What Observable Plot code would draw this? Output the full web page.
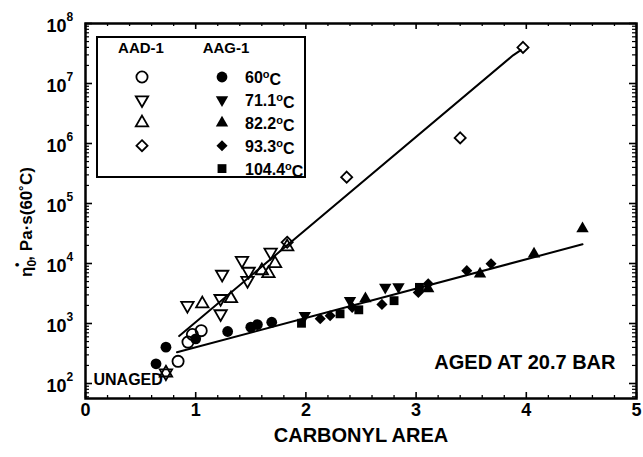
<!DOCTYPE html>
<html><head><meta charset="utf-8">
<script src="https://cdn.jsdelivr.net/npm/d3@7"></script>
<script src="https://cdn.jsdelivr.net/npm/@observablehq/plot@0.6"></script>
<style>
body{margin:0;background:#fff;}
#chart{width:643px;height:457px;}
</style></head><body><div id="chart"></div>
<script>
// ---------- data ----------
// AAD-1 (open symbols)
const aad60X = [0.84, 0.93, 0.97, 1.05];
const aad60Y = [234, 490, 655, 760];
const aad71X = [0.73, 0.925, 1.226, 1.226, 1.24, 1.42, 1.47, 1.48, 1.68];
const aad71Y = [150, 2000, 1450, 2600, 6600, 11200, 5200, 7400, 15400];
const aad82X = [0.73, 1.06, 1.32, 1.60, 1.66, 1.72, 1.83];
const aad82Y = [150, 2130, 2600, 7600, 6800, 10000, 19000];
const aad93X = [1.83, 2.37, 3.40, 3.97];
const aad93Y = [22600, 275000, 1240000, 40000000];
// AAG-1 (filled symbols)
const aag60X = [0.64, 0.73, 1.0, 1.29, 1.50, 1.56, 1.69];
const aag60Y = [213, 403, 555, 735, 870, 960, 1050];
const aag71X = [1.99, 2.40, 2.72, 2.84];
const aag71Y = [1350, 2400, 4000, 4100];
const aag82X = [2.54, 3.11, 3.58, 4.07, 4.51];
const aag82Y = [2600, 3800, 6700, 14500, 38000];
const aag93X = [2.13, 2.22, 2.42, 2.69, 3.02, 3.11, 3.46, 3.68];
const aag93Y = [1200, 1350, 1860, 2080, 3300, 4600, 7600, 9900];
const aag104X = [1.96, 2.31, 2.48, 2.80, 3.03];
const aag104Y = [1010, 1450, 1690, 2400, 4000];
// fitted lines
const upperFitX = [0.85, 3.88, 3.95];
const upperFitY = [617, 29500000, 36000000];
const lowerFitX = [0.83, 4.51];
const lowerFitY = [331, 20900];
// ticks and labels
const xTicks = [0, 1, 2, 3, 4, 5];
const xMinorTicks = [0.2,0.4,0.6,0.8,1.2,1.4,1.6,1.8,2.2,2.4,2.6,2.8,3.2,3.4,3.6,3.8,4.2,4.4,4.6,4.8];
const yTickExps = [2, 3, 4, 5, 6, 7, 8];
const legendGroups = ["AAD-1", "AAG-1"];
const legendTemps = ["60", "71.1", "82.2", "93.3", "104.4"];
const xTitle = "CARBONYL AREA";
const note1 = "AGED AT 20.7 BAR";
const note2 = "UNAGED";

// ---------- layout ----------
const F = "'Liberation Sans', Arial, Helvetica, sans-serif";
const W = 643, H = 457, mL = 85, mR = 7, mT = 23, mB = 59;
const fw = W - mL - mR, fh = H - mT - mB;

const triangleDown = {
  draw(context, size) {
    const y = -Math.sqrt(size / (Math.sqrt(3) * 3));
    context.moveTo(0, -y * 2);
    context.lineTo(-Math.sqrt(3) * y, y);
    context.lineTo(Math.sqrt(3) * y, y);
    context.closePath();
  }
};

const openSeries = [
  {x: aad60X, y: aad60Y, symbol: d3.symbolCircle, r: 5.6},
  {x: aad71X, y: aad71Y, symbol: triangleDown, r: 4.6},
  {x: aad82X, y: aad82Y, symbol: d3.symbolTriangle, r: 4.6},
  {x: aad93X, y: aad93Y, symbol: d3.symbolDiamond2, r: 5.0}
];
const filledSeries = [
  {x: aag60X, y: aag60Y, symbol: d3.symbolCircle, r: 5.4},
  {x: aag71X, y: aag71Y, symbol: triangleDown, r: 4.6},
  {x: aag82X, y: aag82Y, symbol: d3.symbolTriangle, r: 4.6},
  {x: aag93X, y: aag93Y, symbol: d3.symbolDiamond2, r: 5.0},
  {x: aag104X, y: aag104Y, symbol: d3.symbolSquare, r: 5.0}
];
const rows = (xs, ys) => xs.map((x, i) => ({x, y: ys[i]}));

const yMajor = yTickExps.map(e => 10 ** e);
const yMinor = [];
for (let e = 1; e < 8; e++) for (let m = 2; m <= 9; m++) { const v = m * 10 ** e; if (v > 10 ** 1.75) yMinor.push(v); }

const marks = [
  Plot.line(rows(upperFitX, upperFitY), {x: "x", y: "y", stroke: "black", strokeWidth: 2}),
  Plot.line(rows(lowerFitX, lowerFitY), {x: "x", y: "y", stroke: "black", strokeWidth: 2}),
  ...openSeries.map(s => Plot.dot(rows(s.x, s.y), {x: "x", y: "y", symbol: s.symbol, r: s.r, fill: "none", stroke: "black", strokeWidth: 1.8})),
  ...filledSeries.map(s => Plot.dot(rows(s.x, s.y), {x: "x", y: "y", symbol: s.symbol, r: s.r, fill: "black", stroke: "none"})),
  // inward ticks on all four sides
  Plot.ruleX(xTicks, {x: d => d, insetTop: fh - 6, strokeWidth: 1.6}),
  Plot.ruleX(xTicks, {x: d => d, insetBottom: fh - 6, strokeWidth: 1.6}),
  Plot.ruleX(xMinorTicks, {x: d => d, insetTop: fh - 3, strokeWidth: 1.3}),
  Plot.ruleX(xMinorTicks, {x: d => d, insetBottom: fh - 3, strokeWidth: 1.3}),
  Plot.ruleY(yMajor, {y: d => d, insetRight: fw - 7, strokeWidth: 1.6}),
  Plot.ruleY(yMajor, {y: d => d, insetLeft: fw - 7, strokeWidth: 1.6}),
  Plot.ruleY(yMinor, {y: d => d, insetRight: fw - 4, strokeWidth: 1.2}),
  Plot.ruleY(yMinor, {y: d => d, insetLeft: fw - 4, strokeWidth: 1.2}),
  Plot.frame({stroke: "black", strokeWidth: 2.5}),
  // tick labels
  Plot.text(xTicks, {x: d => d, text: d => String(d), frameAnchor: "bottom", dy: 17, fontSize: 18}),
  Plot.text(yMajor, {y: d => d, text: () => "10", frameAnchor: "left", textAnchor: "end", dx: -19, dy: 3, fontSize: 18}),
  Plot.text(yMajor, {y: d => d, text: (d, i) => String(yTickExps[i]), frameAnchor: "left", textAnchor: "start", dx: -19, dy: -6, fontSize: 12}),
  // annotations
  Plot.text([note1], {text: d => d, frameAnchor: "bottom-right", textAnchor: "end", dx: -21, dy: -30, fontSize: 20}),
  Plot.text([note2], {text: d => d, frameAnchor: "bottom-left", textAnchor: "start", dx: 8, dy: -14, fontSize: 16}),
  Plot.text([xTitle], {text: d => d, frameAnchor: "bottom", dy: 43, fontSize: 20})
];

const plot = Plot.plot({
  width: W, height: H,
  marginLeft: mL, marginRight: mR, marginTop: mT, marginBottom: mB,
  x: {domain: [0, 5], axis: null},
  y: {type: "log", domain: [10 ** 1.75, 1e8], axis: null},
  style: {fontFamily: F, fontWeight: "bold", background: "white", color: "black"},
  marks
});
document.getElementById("chart").appendChild(plot);

// ---------- y-axis title ----------
const svg = d3.select(plot);
const yt = svg.append("text")
  .attr("transform", "translate(32,222) rotate(-90)")
  .attr("text-anchor", "middle")
  .style("font-family", F).style("font-weight", "bold").style("font-size", "17px").attr("fill", "black");
yt.append("tspan").text("η");
yt.append("tspan").attr("dy", 4).style("font-size", "12px").text("0");
yt.append("tspan").attr("dx", -7).attr("dy", -15).style("font-size", "12px").text("•");
yt.append("tspan").attr("dx", 2).attr("dy", 11).text(",");
yt.append("tspan").text(" Pa·s(60˚C)");

// ---------- legend ----------
const lg = svg.append("g").style("font-family", F).style("font-weight", "bold");
lg.append("rect").attr("x", 97).attr("y", 37).attr("width", 208).attr("height", 140)
  .attr("fill", "white").attr("stroke", "black").attr("stroke-width", 2);
const colX = [141, 226];
legendGroups.forEach((g, i) => {
  lg.append("text").attr("x", colX[i]).attr("y", 48).attr("dy", "0.35em").attr("text-anchor", "middle")
    .style("font-size", "15px").text(g);
});
const rowY = i => 77 + i * 22.9;
openSeries.forEach((s, i) => {
  lg.append("path").attr("transform", `translate(142,${rowY(i)})`)
    .attr("d", d3.symbol(s.symbol, Math.PI * s.r * s.r)())
    .attr("fill", "none").attr("stroke", "black").attr("stroke-width", 1.8);
});
filledSeries.forEach((s, i) => {
  lg.append("path").attr("transform", `translate(222,${rowY(i)})`)
    .attr("d", d3.symbol(s.symbol, Math.PI * s.r * s.r)())
    .attr("fill", "black");
});
legendTemps.forEach((t, i) => {
  const tx = lg.append("text").attr("x", 245).attr("y", rowY(i)).attr("dy", "0.38em")
    .attr("text-anchor", "start").style("font-size", "16px");
  tx.append("tspan").text(t);
  tx.append("tspan").attr("dy", "-0.45em").style("font-size", "11px").text("o");
  tx.append("tspan").attr("dy", "0.45em").text("C");
});
</script></body></html>
